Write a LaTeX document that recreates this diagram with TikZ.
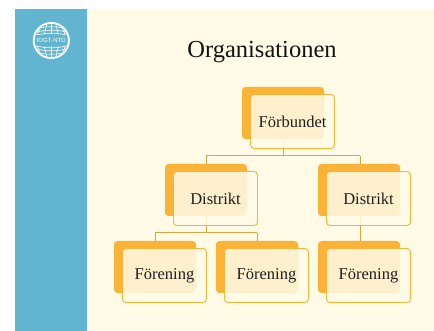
\documentclass[tikz,border=0pt]{standalone}
\usepackage{fontspec}
\setmainfont{Liberation Serif}
\newfontfamily\logofont{Liberation Sans}
\definecolor{cream}{HTML}{FFFBE6}
\definecolor{sky}{HTML}{62B5D1}
\definecolor{amber}{HTML}{FBB337}
\definecolor{link}{HTML}{D9A441}
\tikzset{x=1pt,y=-1pt,
 back/.style={fill=amber,rounded corners=3.5pt},
 front/.style={draw=amber,line width=.9pt,fill=cream,fill opacity=.86,rounded corners=3.5pt},
 lbl/.style={font=\fontsize{16.5}{18}\selectfont,text=black!88,inner sep=0pt},
 conn/.style={draw=link,line width=.9pt},
 logo/.style={draw=white,line width=.6pt}}
\newcommand{\orgbox}[4]{% name, back x, back y, text
 \fill[back] (#2,#3) rectangle ++(82,52);
 \path[front] (#2+8.5,#3+7.5) rectangle ++(84,54);
 \node[lbl] (#1) at (#2+50.5,#3+34.8) {#4};
}
\begin{document}
\begin{tikzpicture}
\useasboundingbox (0,0) rectangle (434,331);
\fill[white] (0,0) rectangle (434,331);
\fill[cream] (87,9) rectangle (434,331);
\fill[sky] (15,9) rectangle (87,331);
% logo
\begin{scope}
\clip (51.3,40.5) circle (18);
\foreach \s in {1,-1}{
 \begin{scope}[shift={(51.3,40.5)},yscale=\s]
  \foreach \yy in {-16,-12.5,-9,-6}{
    \draw[logo] (-17,\yy+1) .. controls (-6,\yy-2) and (6,\yy-2) .. (17,\yy+1);}
  \foreach \xx in {-14,-7,0,7,14}{
    \draw[logo] (\xx,-6) -- (\xx*.6,-18);}
 \end{scope}}
\end{scope}
\fill[sky] (33,35.5) rectangle (70,45.5);
\draw[white,line width=1.8pt] (51.3,40.5) circle (17.6);
\node[font=\fontsize{6}{7}\selectfont\logofont,text=white,inner sep=0pt] (logotext) at (51.3,40.3) {IOGT·NTO};
\node[font=\fontsize{24.5}{27}\selectfont,text=black!92,inner sep=0pt] (title) at (262,51.8) {Organisationen};
% connectors first
\coordinate (j0) at (283,155.7);
\coordinate (j1) at (206,155.7);
\coordinate (j2) at (360,155.7);
\coordinate (j3) at (206,232.7);
\coordinate (j4) at (155,232.7);
\coordinate (j5) at (257,232.7);
\coordinate (ft) at (283,138);
\coordinate (d1t) at (206,164);
\coordinate (d2t) at (360,164);
\coordinate (d1b) at (206,215);
\coordinate (d2b) at (360,215);
\coordinate (at) at (155,241);
\coordinate (bt) at (257,241);
\coordinate (ct) at (360,241);
\draw[conn] (ft) -- (j0);
\draw[conn] (j1) -- (j2);
\draw[conn] (j1) -- (d1t);
\draw[conn] (j2) -- (d2t);
\draw[conn] (d1b) -- (j3);
\draw[conn] (j4) -- (j5);
\draw[conn] (j4) -- (at);
\draw[conn] (j5) -- (bt);
\draw[conn] (d2b) -- (ct);
\orgbox{f}{242}{87}{Förbundet}
\orgbox{d1}{165}{164}{Distrikt}
\orgbox{d2}{318}{164}{Distrikt}
\orgbox{a}{114}{241}{Förening}
\orgbox{b}{216}{241}{Förening}
\orgbox{c}{318}{241}{Förening}
\end{tikzpicture}
\end{document}
